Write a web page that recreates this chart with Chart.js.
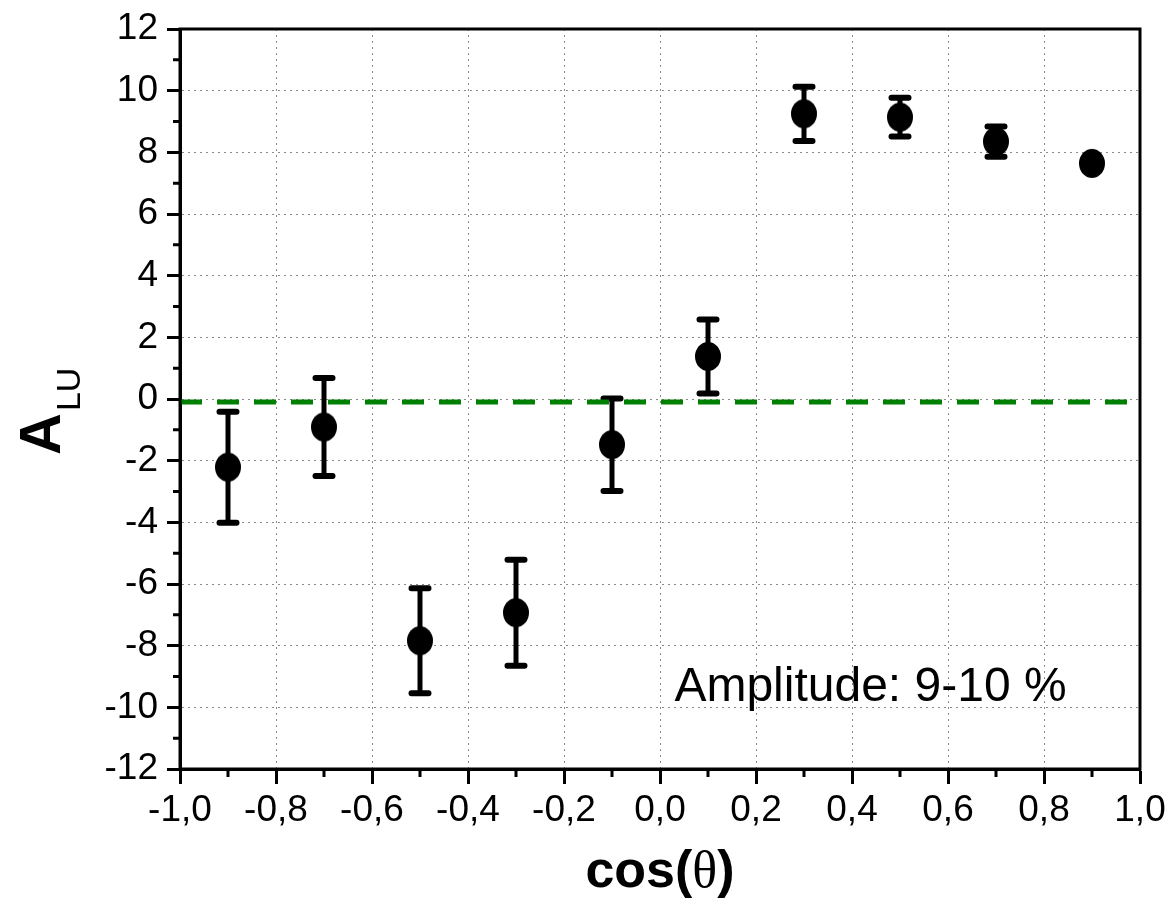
<!DOCTYPE html>
<html>
<head>
<meta charset="utf-8">
<script src="https://cdn.jsdelivr.net/npm/chart.js@4/dist/chart.umd.min.js"></script>
<style>
  body { margin: 0; background: #fff; }
  #wrap { width: 1168px; height: 904px; position: relative; }
</style>
</head>
<body>
<div id="wrap"><canvas id="grafico"></canvas></div>
<script>
// dados
const cosTheta = [-0.9, -0.7, -0.5, -0.3, -0.1, 0.1, 0.3, 0.5, 0.7, 0.9];
const aLU = [-2.21, -0.91, -7.84, -6.93, -1.48, 1.38, 9.25, 9.14, 8.35, 7.64];
const erroLU = [1.8, 1.59, 1.7, 1.72, 1.5, 1.2, 0.88, 0.63, 0.49, 0.15];
const nivelRef = -0.1;           // linha verde tracejada
const limitesX = [-1, 1];
const limitesY = [-12, 12];
const textoAmplitude = 'Amplitude: 9-10 %';
const posAmplitude = [0.03, -9.8];

const FONTE = "'Liberation Sans', Arial, sans-serif";

// marcador eliptico
function criarMarcador() {
    const c = document.createElement('canvas');
    c.width = 28; c.height = 31;
    const g = c.getContext('2d');
    g.fillStyle = '#000';
    g.beginPath();
    g.ellipse(14, 15.5, 13, 14.5, 0, 0, Math.PI * 2);
    g.fill();
    return c;
}

const pontos = cosTheta.map((x, i) => ({ x: x, y: aLU[i] }));

const pluginEixos = {
    id: 'eixosExtras',
    beforeDatasetsDraw(chart) {
        // barras de erro
        const ctx = chart.ctx;
        const sx = chart.scales.x, sy = chart.scales.y;
        ctx.save();
        ctx.strokeStyle = '#000';
        for (let i = 0; i < cosTheta.length; i++) {
            const px = sx.getPixelForValue(cosTheta[i]);
            const yTop = sy.getPixelForValue(aLU[i] + erroLU[i]);
            const yBot = sy.getPixelForValue(aLU[i] - erroLU[i]);
            ctx.lineWidth = 5;
            ctx.lineCap = 'butt';
            ctx.beginPath();
            ctx.moveTo(px, yTop);
            ctx.lineTo(px, yBot);
            ctx.stroke();
            ctx.lineWidth = 6;
            ctx.lineCap = 'round';
            ctx.beginPath();
            ctx.moveTo(px - 8.5, yTop); ctx.lineTo(px + 8.5, yTop);
            ctx.moveTo(px - 8.5, yBot); ctx.lineTo(px + 8.5, yBot);
            ctx.stroke();
        }
        ctx.restore();
    },
    afterDraw(chart) {
        const ctx = chart.ctx;
        const a = chart.chartArea;
        const sx = chart.scales.x, sy = chart.scales.y;
        ctx.save();
        ctx.strokeStyle = '#000';
        ctx.lineWidth = 3;

        // ticks menores
        ctx.beginPath();
        const tx = sx.ticks.map(t => t.value);
        for (let i = 0; i < tx.length - 1; i++) {
            const p = sx.getPixelForValue((tx[i] + tx[i + 1]) / 2);
            ctx.moveTo(p, a.bottom);
            ctx.lineTo(p, a.bottom + 8);
        }
        const ty = sy.ticks.map(t => t.value);
        for (let i = 0; i < ty.length - 1; i++) {
            const p = sy.getPixelForValue((ty[i] + ty[i + 1]) / 2);
            ctx.moveTo(a.left - 7, p);
            ctx.lineTo(a.left, p);
        }
        ctx.stroke();

        // moldura
        ctx.strokeRect(a.left, a.top, a.right - a.left, a.bottom - a.top);

        // texto da amplitude
        ctx.fillStyle = '#000';
        ctx.font = '48px ' + FONTE;
        ctx.textBaseline = 'alphabetic';
        ctx.textAlign = 'left';
        ctx.fillText(textoAmplitude, sx.getPixelForValue(posAmplitude[0]), sy.getPixelForValue(posAmplitude[1]));

        // titulo eixo x: cos(θ)
        const partes = [
            { t: 'cos(', f: 'bold 52px ' + FONTE },
            { t: 'θ', f: '52px "Liberation Serif", "DejaVu Serif", serif' },
            { t: ')', f: 'bold 52px ' + FONTE }
        ];
        let larg = 0;
        partes.forEach(p => { ctx.font = p.f; p.w = ctx.measureText(p.t).width; larg += p.w; });
        let cx = (a.left + a.right) / 2 - larg / 2;
        partes.forEach(p => { ctx.font = p.f; ctx.fillText(p.t, cx, 887); cx += p.w; });

        // titulo eixo y: A_LU
        ctx.translate(60, 455);
        ctx.rotate(-Math.PI / 2);
        ctx.font = 'bold 58px ' + FONTE;
        const wA = ctx.measureText('A').width;
        ctx.fillText('A', 0, 0);
        ctx.font = '34px ' + FONTE;
        ctx.fillText('LU', wA + 2, 20);
        ctx.restore();
    }
};

function formatarVirgula(v) {
    if (Math.abs(v) < 1e-9) v = 0;
    return v.toFixed(1).replace('.', ',');
}

const graficoEl = document.querySelector('#grafico');

const grafico = new Chart(graficoEl, {
    type: 'scatter',
    data: {
        datasets: [{
            label: 'referencia',
            type: 'line',
            data: [{ x: limitesX[0], y: nivelRef }, { x: limitesX[1], y: nivelRef }],
            borderColor: '#008000',
            borderWidth: 5,
            borderDash: [22, 15],
            pointRadius: 0,
            fill: false,
            order: 2
        }, {
            label: 'A_LU',
            data: pontos,
            pointStyle: criarMarcador(),
            pointRadius: 14,
            pointHoverRadius: 14,
            backgroundColor: '#000',
            borderColor: '#000',
            order: 1
        }]
    },
    options: {
        responsive: true,
        maintainAspectRatio: false,
        animation: false,
        events: [],
        layout: { padding: { top: 29, right: 28, left: 0, bottom: 0 } },
        plugins: {
            legend: { display: false },
            tooltip: { enabled: false }
        },
        scales: {
            x: {
                type: 'linear',
                min: limitesX[0],
                max: limitesX[1],
                afterFit: (s) => { s.height = 135; s.paddingLeft = 0; s.paddingRight = 0; },
                ticks: {
                    stepSize: 0.2,
                    color: '#000',
                    padding: 5,
                    maxRotation: 0,
                    font: { size: 37, family: FONTE },
                    callback: (v) => formatarVirgula(v)
                },
                grid: {
                    color: '#8a8a8a',
                    lineWidth: 1,
                    tickLength: 15,
                    tickWidth: 3,
                    tickColor: '#000',
                    tickBorderDash: []
                },
                border: { display: true, color: '#000', width: 3, dash: [2, 4] }
            },
            y: {
                type: 'linear',
                min: limitesY[0],
                max: limitesY[1],
                afterFit: (s) => { s.width = 180; s.paddingTop = 0; s.paddingBottom = 0; },
                ticks: {
                    stepSize: 2,
                    color: '#000',
                    padding: 9,
                    font: { size: 37, family: FONTE }
                },
                grid: {
                    color: '#8a8a8a',
                    lineWidth: 1,
                    tickLength: 13,
                    tickWidth: 3,
                    tickColor: '#000',
                    tickBorderDash: []
                },
                border: { display: true, color: '#000', width: 3, dash: [2, 4] }
            }
        }
    },
    plugins: [pluginEixos]
});
</script>
</body>
</html>
